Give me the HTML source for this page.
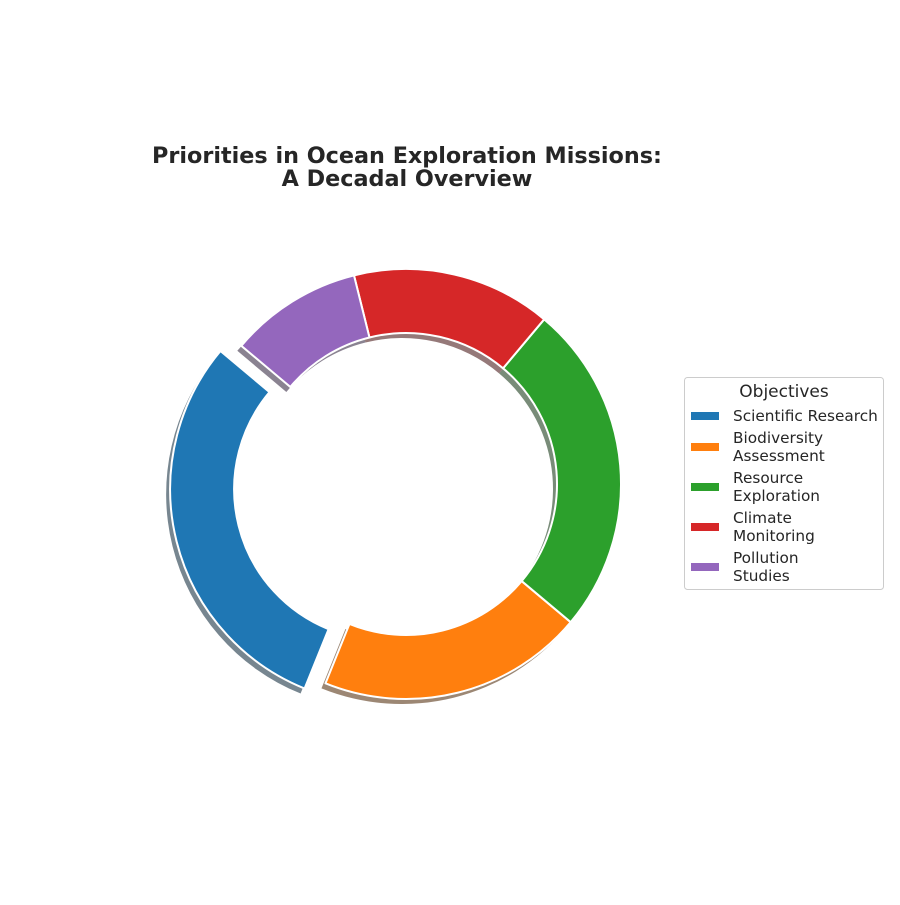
<!DOCTYPE html>
<html><head><meta charset="utf-8"><style>
body{margin:0;background:#fff;}
svg{font-family:"DejaVu Sans","Liberation Sans",sans-serif;}
</style></head><body>
<svg width="900" height="900" viewBox="0 0 900 900">
<rect width="900" height="900" fill="#fff"/>
<text x="407" y="163" text-anchor="middle" font-size="22.3" font-weight="bold" fill="#262626">Priorities in Ocean Exploration Missions:</text>
<text x="407" y="186" text-anchor="middle" font-size="22.3" font-weight="bold" fill="#262626">A Decadal Overview</text>
<g id="shadows"></g>
<g id="wedges"></g>
<g>
<rect x="684.5" y="377.5" width="199" height="212" rx="3" fill="#fff" stroke="#ccc"/>
<text x="784" y="397" text-anchor="middle" font-size="17" fill="#262626">Objectives</text>
<g id="legend-items"></g>
</g>
</svg>
<script>
const categories = ["Scientific Research", "Biodiversity Assessment", "Resource Exploration", "Climate Monitoring", "Pollution Studies"];
const legendLines = [["Scientific Research"], ["Biodiversity", "Assessment"], ["Resource", "Exploration"], ["Climate", "Monitoring"], ["Pollution", "Studies"]];
const values = [30, 20, 25, 15, 10];
const explode = [0.1, 0, 0, 0, 0];
const colors = ["#1f77b4", "#ff7f0e", "#2ca02c", "#d62728", "#9467bd"];

const cx = 406, cy = 484, R = 215, r = 151, startAngle = 140;
const NS = "http://www.w3.org/2000/svg";
const total = values.reduce((a, b) => a + b, 0);
function pt(a, rad, ox, oy) {
  const t = a * Math.PI / 180;
  return [ox + rad * Math.cos(t), oy - rad * Math.sin(t)];
}
function wedgePath(a0, a1, ox, oy) {
  const large = (a1 - a0) > 180 ? 1 : 0;
  const p0 = pt(a0, R, ox, oy), p1 = pt(a1, R, ox, oy), q1 = pt(a1, r, ox, oy), q0 = pt(a0, r, ox, oy);
  return `M${p0[0]},${p0[1]} A${R},${R} 0 ${large} 0 ${p1[0]},${p1[1]} L${q1[0]},${q1[1]} A${r},${r} 0 ${large} 1 ${q0[0]},${q0[1]} Z`;
}
const gS = document.getElementById("shadows"), gW = document.getElementById("wedges");
let a = startAngle;
values.forEach((v, i) => {
  const span = v / total * 360;
  const mid = (a + span / 2) * Math.PI / 180;
  const d = explode[i] * R;
  const ox = cx + d * Math.cos(mid), oy = cy - d * Math.sin(mid);
  const sh = document.createElementNS(NS, "path");
  sh.setAttribute("d", wedgePath(a, a + span, ox - 4, oy + 5));
  sh.setAttribute("fill", colors[i]);
  sh.setAttribute("style", "filter:brightness(0.3)");
  sh.setAttribute("opacity", "0.55");
  
  
  gS.appendChild(sh);
  const w = document.createElementNS(NS, "path");
  w.setAttribute("d", wedgePath(a, a + span, ox, oy));
  w.setAttribute("fill", colors[i]);
  w.setAttribute("stroke", "#fff");
  w.setAttribute("stroke-width", "2");
  w.setAttribute("stroke-linejoin", "round");
  
  
  gW.appendChild(w);
  a += span;
});
const gL = document.getElementById("legend-items");
const entryY = [416, 438, 478, 518, 558];
legendLines.forEach((lines, i) => {
  const y = entryY[i];
  const hy = lines.length > 1 ? y + 9 : y;
  const rc = document.createElementNS(NS, "rect");
  rc.setAttribute("x", 691); rc.setAttribute("y", hy - 4);
  rc.setAttribute("width", 28); rc.setAttribute("height", 8);
  rc.setAttribute("fill", colors[i]);
  
  
  gL.appendChild(rc);
  lines.forEach((ln, j) => {
    const t = document.createElementNS(NS, "text");
    t.setAttribute("x", 733); t.setAttribute("y", y + 5 + j * 18);
    t.setAttribute("font-size", "15.3"); t.setAttribute("fill", "#262626");
    t.textContent = ln;
    
    
    gL.appendChild(t);
  });
});
</script>
</body></html>
